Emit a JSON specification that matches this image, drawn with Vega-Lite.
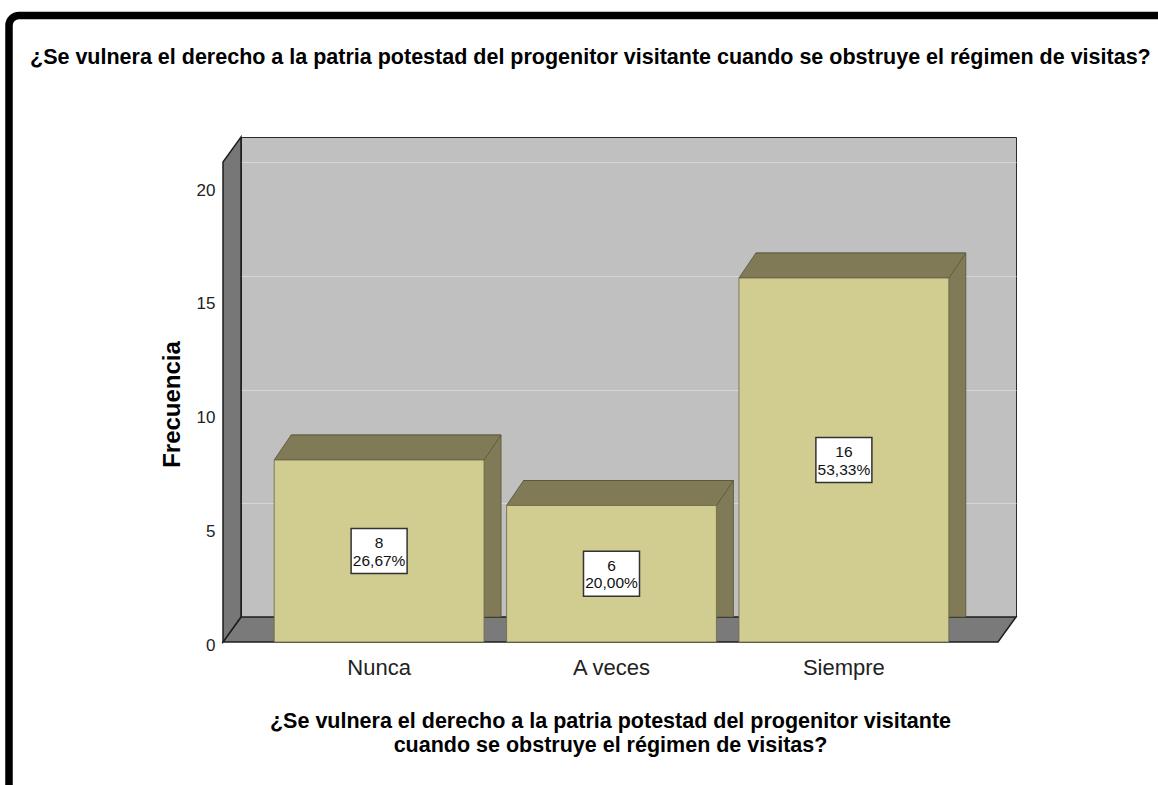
{
  "$schema": "https://vega.github.io/schema/vega-lite/v6.json",
  "width": 775,
  "height": 480,
  "autosize": {"type": "none"},
  "padding": {"left": 241, "top": 137, "right": 142, "bottom": 168},
  "background": "white",
  "view": {"fill": "#c0c0c0", "stroke": "#2b2b2b", "strokeWidth": 1},
  "config": {"font": "Liberation Sans"},
  "title": {
    "text": "¿Se vulnera el derecho a la patria potestad del progenitor visitante cuando se obstruye el régimen de visitas?",
    "anchor": "start",
    "frame": "group",
    "orient": "top",
    "font": "Liberation Sans",
    "fontSize": 21.5,
    "fontWeight": "bold",
    "color": "#000000",
    "baseline": "alphabetic",
    "offset": 0,
    "dx": -211,
    "dy": 74
  },
  "datasets": {
    "freq": [
      {"respuesta": "Nunca", "frecuencia": 8, "porcentaje": "26,67%"},
      {"respuesta": "A veces", "frecuencia": 6, "porcentaje": "20,00%"},
      {"respuesta": "Siempre", "frecuencia": 16, "porcentaje": "53,33%"}
    ],
    "decor": [{"pieza": "decor"}]
  },
  "encoding": {
    "x": {
      "field": "respuesta",
      "type": "nominal",
      "sort": ["Nunca", "A veces", "Siempre"],
      "scale": {"paddingInner": 0.097, "paddingOuter": 0.216},
      "axis": {
        "title": ["¿Se vulnera el derecho a la patria potestad del progenitor visitante", "cuando se obstruye el régimen de visitas?"],
        "titleFont": "Liberation Sans",
        "titleFontSize": 21.5,
        "titleFontWeight": "bold",
        "titleColor": "#000000",
        "titleLineHeight": 24,
        "titleX": 369,
        "titleY": 85,
        "titleAlign": "center",
        "titleBaseline": "alphabetic",
        "labelFont": "Liberation Sans",
        "labelFontSize": 22,
        "labelColor": "#222222",
        "labelOffset": -17,
        "labelPadding": 15,
        "labelAngle": 0,
        "ticks": false,
        "domain": false,
        "grid": false,
        "offset": 25
      }
    }
  },
  "resolve": {"scale": {"y": "independent"}},
  "layer": [
    {
      "data": {"name": "freq"},
      "encoding": {
        "y": {
          "field": "frecuencia",
          "type": "quantitative",
          "scale": {"domain": [0, 21.1], "nice": false},
          "axis": {
            "title": "Frecuencia",
            "titleFont": "Liberation Sans",
            "titleFontSize": 24,
            "titleFontWeight": "bold",
            "titleColor": "#000000",
            "titleX": -51,
            "titleY": 267,
            "titleAngle": -90,
            "titleAlign": "center",
            "titleBaseline": "middle",
            "values": [0, 5, 10, 15, 20],
            "labelFont": "Liberation Sans",
            "labelFontSize": 17,
            "labelColor": "#222222",
            "labelOffset": 28,
            "labelPadding": 8,
            "ticks": false,
            "domain": false,
            "grid": true,
            "gridColor": "#d6d6d6",
            "gridWidth": 1.2,
            "offset": 18
          }
        }
      },
      "layer": [
        {
          "data": {"name": "decor"},
          "mark": {"type": "rect", "filled": false, "color": "#000000", "strokeWidth": 7.5, "cornerRadius": 10},
          "encoding": {"x": {"value": -232}, "x2": {"value": 960}, "y": {"value": -121.5}, "y2": {"value": 700}}
        },
        {
          "data": {"name": "decor"},
          "mark": {"type": "point", "shape": "M0,0 L775,0 L757,25 L-18,25 Z", "size": 4, "filled": true, "fill": "#7a7a7a", "stroke": "#1e1e1e", "strokeWidth": 1.5, "opacity": 1},
          "encoding": {"x": {"value": 0}, "y": {"value": 480}}
        },
        {
          "data": {"name": "decor"},
          "mark": {"type": "point", "shape": "M0,0 L0,480 L-18,505 L-18,25 Z", "size": 4, "filled": true, "fill": "#777777", "stroke": "#1e1e1e", "strokeWidth": 1.5, "opacity": 1},
          "encoding": {"x": {"value": 0}, "y": {"value": 0}}
        },
        {
          "mark": {"type": "bar", "color": "#807b56", "stroke": "#56533a", "strokeWidth": 0.8, "y2Offset": 12.5}
        },
        {
          "mark": {"type": "point", "shape": "M-105,0 L105,0 L88,25 L-122,25 Z", "size": 4, "filled": true, "fill": "#807b56", "stroke": "#56533a", "strokeWidth": 0.8, "opacity": 1}
        },
        {
          "mark": {"type": "bar", "color": "#d1cc90", "stroke": "#6b6847", "strokeWidth": 0.8, "xOffset": -17, "x2Offset": -17, "yOffset": 25, "y2Offset": 25}
        }
      ]
    },
    {
      "data": {"name": "freq"},
      "encoding": {
        "y": {
          "field": "frecuencia",
          "type": "quantitative",
          "scale": {"domain": [0, 42.2], "nice": false},
          "axis": null
        }
      },
      "layer": [
        {
          "mark": {"type": "point", "shape": "M-28,-22.5 H28 V22.5 H-28 Z", "size": 4, "filled": true, "fill": "#ffffff", "stroke": "#333333", "strokeWidth": 1.5, "opacity": 1, "xOffset": -17, "yOffset": 25}
        },
        {
          "mark": {"type": "text", "font": "Liberation Sans", "fontSize": 15.5, "color": "#111111", "baseline": "middle", "dx": -17, "dy": 17},
          "encoding": {"text": {"field": "frecuencia", "type": "quantitative"}}
        },
        {
          "mark": {"type": "text", "font": "Liberation Sans", "fontSize": 15.5, "color": "#111111", "baseline": "middle", "dx": -17, "dy": 34.5},
          "encoding": {"text": {"field": "porcentaje", "type": "nominal"}}
        }
      ]
    }
  ]
}
